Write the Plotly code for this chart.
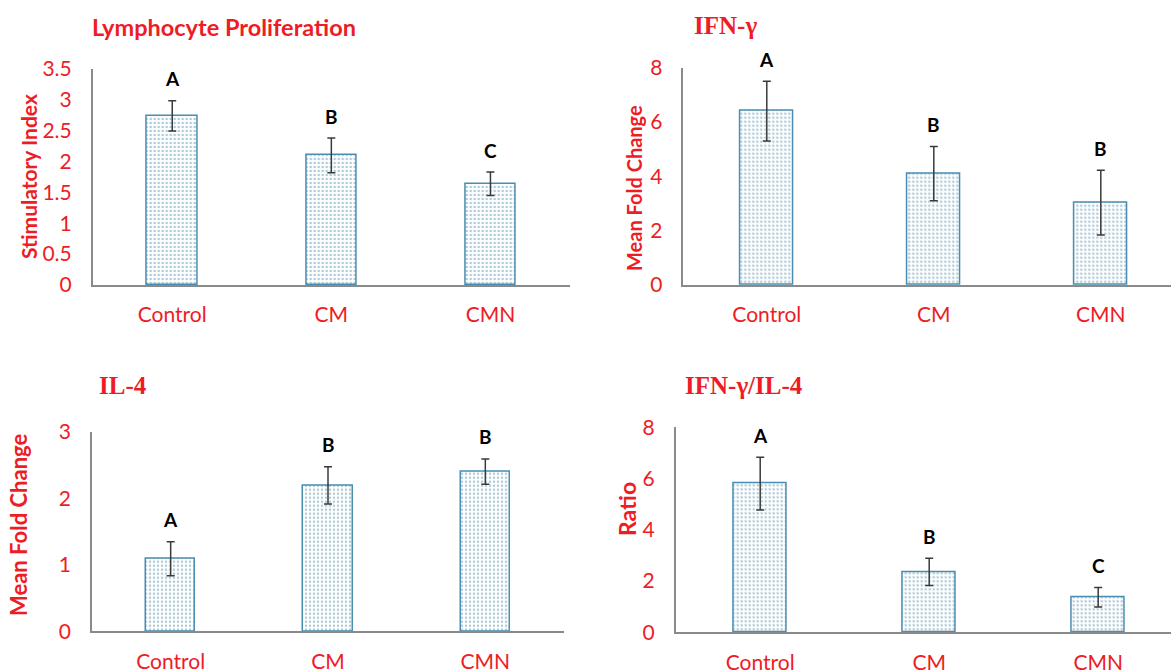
import plotly.graph_objects as go

# ---------------- data ----------------
categories = ["Control", "CM", "CMN"]

lp_values = [2.74, 2.10, 1.64]
lp_errors = [0.245, 0.28, 0.19]
lp_letters = ["A", "B", "C"]
lp_ticks = [0, 0.5, 1, 1.5, 2, 2.5, 3, 3.5]
lp_ticktext = ["0", "0.5", "1", "1.5", "2", "2.5", "3", "3.5"]

ifn_values = [6.40, 4.10, 3.03]
ifn_errors = [1.10, 1.00, 1.19]
ifn_letters = ["A", "B", "B"]
ifn_ticks = [0, 2, 4, 6, 8]

il4_values = [1.09, 2.195, 2.40]
il4_errors = [0.255, 0.28, 0.19]
il4_letters = ["A", "B", "B"]
il4_ticks = [0, 1, 2, 3]

ratio_values = [5.80, 2.36, 1.37]
ratio_errors = [1.03, 0.53, 0.38]
ratio_letters = ["A", "B", "C"]
ratio_ticks = [0, 2, 4, 6, 8]

titles = ["Lymphocyte Proliferation", "IFN-γ", "IL-4", "IFN-γ/IL-4"]
ytitles = ["Stimulatory Index", "Mean Fold Change", "Mean Fold Change", "Ratio"]

# ---------------- style ----------------
W, H = 1171, 670
RED = "#EE1C25"
AXIS = "#8a8a8a"
BAR_LINE = "#4a8db0"
SANS = "Lato, 'Open Sans', sans-serif"
SERIF = "'Liberation Serif', 'DejaVu Serif', serif"

def px_x(v):
    return v / W

def px_y(v):
    return 1 - v / H

panels = [
    dict(v=lp_values, e=lp_errors, L=lp_letters, tv=lp_ticks, tt=lp_ticktext, ymax=3.5,
         xd=(92.7, 570), yd=(69, 285), xr=2.5),
    dict(v=ifn_values, e=ifn_errors, L=ifn_letters, tv=ifn_ticks, tt=[str(t) for t in ifn_ticks], ymax=8,
         xd=(683.3, W), yd=(67.7, 285), xr=-0.5 + (W - 683.3) / 167.0),
    dict(v=il4_values, e=il4_errors, L=il4_letters, tv=il4_ticks, tt=[str(t) for t in il4_ticks], ymax=3,
         xd=(92, 564), yd=(431.7, 631.3), xr=2.5),
    dict(v=ratio_values, e=ratio_errors, L=ratio_letters, tv=ratio_ticks, tt=[str(t) for t in ratio_ticks], ymax=8,
         xd=(675.7, W), yd=(427.3, 632.3), xr=-0.5 + (W - 675.7) / 169.0),
]

fig = go.Figure()
layout = {}
annotations = []

for i, p in enumerate(panels):
    n = i + 1
    xa = "x" if n == 1 else f"x{n}"
    ya = "y" if n == 1 else f"y{n}"
    xkey = "xaxis" if n == 1 else f"xaxis{n}"
    ykey = "yaxis" if n == 1 else f"yaxis{n}"
    xs = list(range(len(categories)))
    fig.add_trace(go.Bar(
        x=xs, y=p["v"], width=0.315, xaxis=xa, yaxis=ya, showlegend=False,
        marker=dict(color="white", line=dict(color=BAR_LINE, width=1.5),
                    pattern=dict(shape=".", fgcolor="#5f93ad", bgcolor="white",
                                 size=4, solidity=0.3)),
        error_y=dict(type="data", array=p["e"], color="#3a3a3a", thickness=1.5, width=4),
    ))
    layout[xkey] = dict(
        domain=[px_x(p["xd"][0]), px_x(p["xd"][1])], anchor=ya, automargin=False,
        range=[-0.5, p["xr"]], tickvals=xs, ticktext=categories,
        showline=True, linecolor=AXIS, linewidth=2, showgrid=False, zeroline=False,
        ticks="", tickfont=dict(family=SANS, size=21, color=RED), ticklabelstandoff=10,
        fixedrange=True,
    )
    layout[ykey] = dict(
        domain=[px_y(p["yd"][1]), px_y(p["yd"][0])], anchor=xa, automargin=False,
        range=[0, p["ymax"]], tickvals=p["tv"], ticktext=p["tt"],
        showline=True, linecolor=AXIS, linewidth=1.5, showgrid=False, zeroline=False,
        ticks="", tickfont=dict(family=SANS, size=21, color=RED), ticklabelstandoff=15,
        fixedrange=True,
    )
    for j, lt in enumerate(p["L"]):
        annotations.append(dict(
            x=j, y=p["v"][j] + p["e"][j], xref=xa, yref=ya, text=f"<b>{lt}</b>",
            showarrow=False, yanchor="middle", yshift=22,
            font=dict(family=SANS, size=19, color="black"),
        ))

# panel titles
title_pos = [(90, 27, SANS, 23.5), (692, 26, SERIF, 25), (97, 385, SERIF, 25), (683, 386, SERIF, 25)]
for t, (x, y, fam, sz) in zip(titles, title_pos):
    annotations.append(dict(
        x=px_x(x), y=px_y(y), xref="paper", yref="paper", text=f"<b>{t}</b>",
        showarrow=False, xanchor="left", yanchor="middle",
        font=dict(family=fam, size=sz, color=RED),
    ))

# y-axis titles
ytitle_pos = [(28, 177, 21), (634, 188, 20), (18, 525, 22), (627, 509, 23)]
for t, (x, y, sz) in zip(ytitles, ytitle_pos):
    annotations.append(dict(
        x=px_x(x), y=px_y(y), xref="paper", yref="paper", text=f"<b>{t}</b>",
        showarrow=False, xanchor="center", yanchor="middle", textangle=-90,
        font=dict(family=SANS, size=sz, color=RED),
    ))

fig.update_layout(
    width=W, height=H, margin=dict(l=0, r=0, t=0, b=0, autoexpand=False),
    paper_bgcolor="white", plot_bgcolor="white",
    annotations=annotations, bargap=0,
    **layout,
)

fig.write_html(
    "out.html",
    config={"displayModeBar": False},
    post_script="document.body.style.margin='0';document.body.style.overflow='hidden';",
)
